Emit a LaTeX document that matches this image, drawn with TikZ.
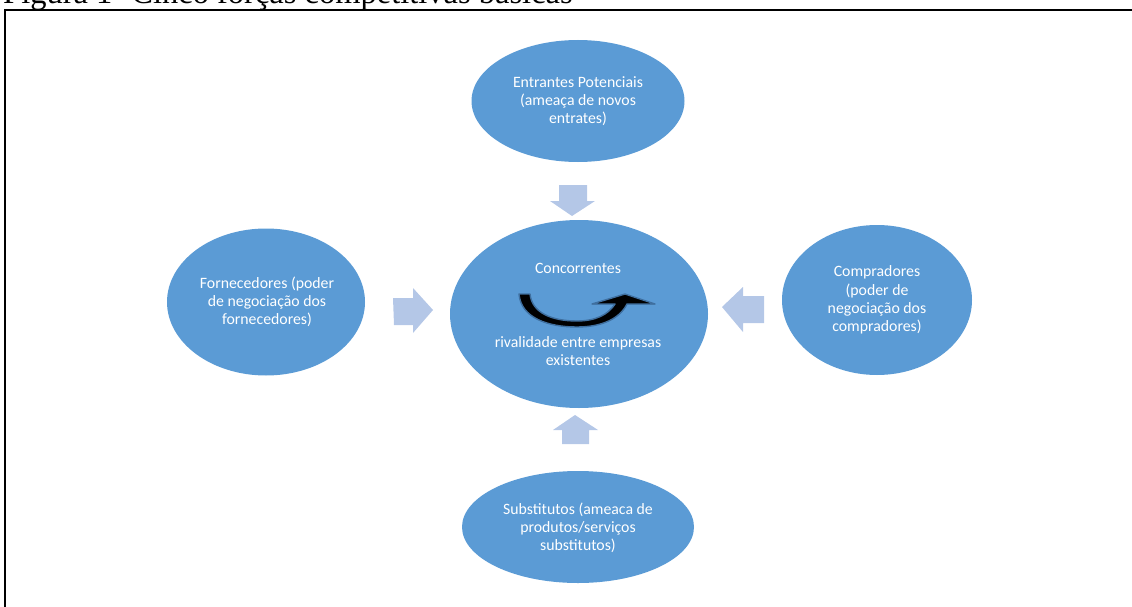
\documentclass[tikz,border=0pt]{standalone}
\usepackage{fontspec}
\setmainfont{Liberation Serif}
\newfontfamily\calib{Carlito}
\usetikzlibrary{shapes.geometric}
\definecolor{ellblue}{HTML}{5B9BD5}
\definecolor{arrblue}{HTML}{B4C7E7}
\definecolor{edgeblue}{HTML}{3F6F9F}
\begin{document}
\begin{tikzpicture}[x=1pt,y=-1pt,
  force/.style={ellipse, fill=ellblue, draw=none, inner sep=0pt},
  lbl/.style={text=white, font=\calib\fontsize{15.8}{18.3}\selectfont, align=center, inner sep=0pt},
  blockarrow/.style={fill=arrblue, draw=none},
  curvearrow/.style={fill=black, draw=edgeblue, line width=1.4pt, line join=round}]
\useasboundingbox (0,0) rectangle (1132,607);
\clip (0,0) rectangle (1132,607);
% title and frame
\node[anchor=base west, inner sep=0pt, font=\fontsize{32.5}{39}\selectfont] (title) at (3,3.5) {Figura 1- Cinco forças competitivas básicas};
\draw[line width=2pt] (5,10.5) rectangle (1145,625);
% ellipses
\node[force, minimum width=213pt, minimum height=122pt] (ent) at (578,101) {};
\node[force, minimum width=258pt, minimum height=188pt] (conc) at (579,314) {};
\node[force, minimum width=198pt, minimum height=147pt] (forn) at (266,302) {};
\node[force, minimum width=190pt, minimum height=150pt] (comp) at (877,300) {};
\node[force, minimum width=232pt, minimum height=112pt] (subs) at (578,527) {};
% texts
\node[lbl] (entT) at (578,101) {Entrantes Potenciais\\(ameaça de novos\\entrates)};
\node[lbl] (concT) at (578,268) {Concorrentes};
\node[lbl] (rivT) at (578,351) {rivalidade entre empresas\\existentes};
\node[lbl] (fornT) at (267,302) {Fornecedores (poder\\de negociação dos\\fornecedores)};
\node[lbl] (compT) at (877,300) {Compradores\\(poder de\\negociação dos\\compradores)};
\node[lbl] (subsT) at (578,528) {Substitutos (ameaca de\\produtos/serviços\\substitutos)};
% block arrows
\fill[blockarrow] (393,298) -- (413,298) -- (413,288) -- (433,310) -- (413,333) -- (413,325) -- (394,325) -- cycle;
\fill[blockarrow] (764,296) -- (743,296) -- (743,287) -- (722,307) -- (743,332) -- (743,323) -- (764,323) -- cycle;
\fill[blockarrow] (559,185) -- (587,185) -- (587,201) -- (595,201) -- (572,216) -- (550,201) -- (559,201) -- cycle;
\fill[blockarrow] (562,444) -- (589,444) -- (589,430) -- (598,430) -- (575,415) -- (553,430) -- (562,430) -- cycle;
% curved arrow
\filldraw[curvearrow] (519,294) .. controls (521,318) and (548,327) .. (577,327)
  .. controls (603,327) and (620,318) .. (627,304)
  -- (655,304) -- (625,294) -- (592,304) -- (615,304)
  .. controls (608,315) and (595,321) .. (577,321)
  .. controls (552,321) and (532,313) .. (530,294) -- cycle;
\end{tikzpicture}
\end{document}
